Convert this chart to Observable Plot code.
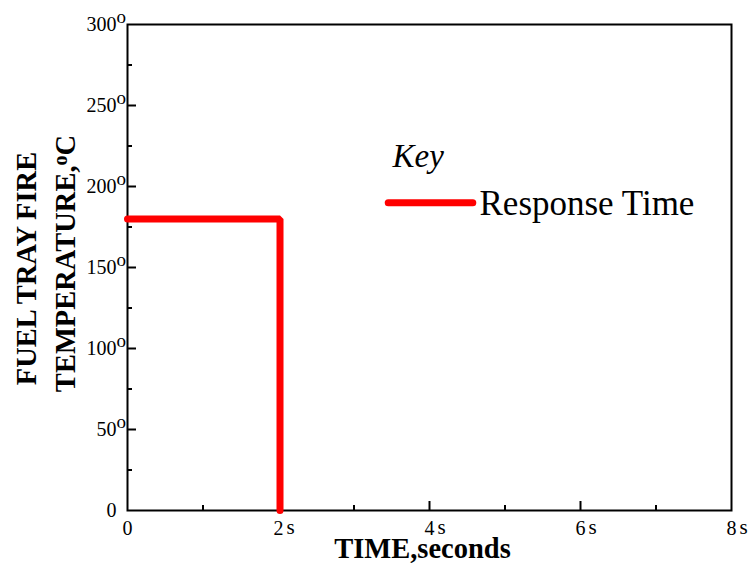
<!DOCTYPE html>
<html>
<head>
<meta charset="utf-8">
<script src="https://cdn.jsdelivr.net/npm/d3@7"></script>
<script src="https://cdn.jsdelivr.net/npm/@observablehq/plot@0.6"></script>
<style>
  html, body { margin: 0; padding: 0; background: #fff; }
  svg text { font-family: "Liberation Serif", "Times New Roman", serif; }
</style>
</head>
<body>
<div id="chart"></div>
<script>
// Data
const timeSec = [0, 2.02, 2.02];
const tempC = [180, 180, 0];
const seriesName = "Response Time";
const keyTitle = "Key";

const xMajor = [0, 2, 4, 6, 8];
const xMinor = [1, 3, 5, 7];
const yMajor = [0, 50, 100, 150, 200, 250, 300];
const yMinor = [25, 75, 125, 175, 225, 275];

const xTitle = "TIME,seconds";
const yTitle1 = "FUEL TRAY FIRE";
const yTitle2 = "TEMPERATURE,oC";

const rows = timeSec.map((t, i) => ({t, temp: tempC[i]}));

const chart = Plot.plot({
  width: 748,
  height: 570,
  marginLeft: 127,
  marginRight: 17,
  marginTop: 24,
  marginBottom: 60,
  style: {fontFamily: "Liberation Serif", background: "#fff", color: "#000"},
  x: {domain: [0, 8]},
  y: {domain: [0, 300]},
  marks: [
    // ticks (inward)
    Plot.axisX({ticks: xMajor.filter(d => d > 0 && d < 8), tickSize: -9, tickFormat: () => "", strokeWidth: 2, label: null}),
    Plot.axisX({ticks: xMinor, tickSize: -5, tickFormat: () => "", strokeWidth: 2, label: null}),
    Plot.axisY({ticks: yMajor.filter(d => d > 0 && d < 300), tickSize: -9, tickFormat: () => "", strokeWidth: 2, label: null}),
    Plot.axisY({ticks: yMinor, tickSize: -5, tickFormat: () => "", strokeWidth: 2, label: null}),
    Plot.frame({stroke: "#000", strokeWidth: 2}),
    // y tick labels
    Plot.text(yMajor, {y: d => d, frameAnchor: "left", textAnchor: "end", lineAnchor: "middle", dx: -11, text: d => String(d), fontSize: 20, fill: "#000"}),
    Plot.text(yMajor.filter(d => d > 0), {y: d => d, frameAnchor: "left", textAnchor: "start", lineAnchor: "middle", dx: -11, dy: -8, text: () => "o", fontSize: 19, fill: "#000"}),
    // x tick labels
    Plot.text(xMajor, {x: d => d, frameAnchor: "bottom", lineAnchor: "middle", dy: 18, text: d => String(d), fontSize: 20, fill: "#000"}),
    Plot.text(xMajor.filter(d => d > 0), {x: d => d, frameAnchor: "bottom", textAnchor: "start", lineAnchor: "middle", dx: 8, dy: 17, text: () => "s", fontSize: 21, fill: "#000"}),
    // axis titles
    Plot.text([xTitle], {frameAnchor: "bottom", lineAnchor: "middle", dx: -7, dy: 38, text: d => d, fontSize: 28.5, fontWeight: "bold", fill: "#000"}),
    Plot.text([yTitle1], {frameAnchor: "left", textAnchor: "middle", lineAnchor: "middle", rotate: -90, dx: -101, dy: 1, text: d => d, fontSize: 28.5, fontWeight: "bold", fill: "#000"}),
    Plot.text([yTitle2], {frameAnchor: "left", textAnchor: "middle", lineAnchor: "middle", rotate: -90, dx: -62, dy: -4, text: d => d, fontSize: 28.5, fontWeight: "bold", fill: "#000"}),
    // data
    Plot.line(rows, {x: "t", y: "temp", stroke: "#ff0000", strokeWidth: 7, strokeLinejoin: "miter"}),
    // key
    Plot.text([keyTitle], {frameAnchor: "top-left", textAnchor: "start", lineAnchor: "middle", dx: 265, dy: 132, text: d => d, fontSize: 33, fontStyle: "italic", fill: "#000"}),
    Plot.ruleY([190], {x1: 3.46, x2: 4.58, stroke: "#ff0000", strokeWidth: 7, strokeLinecap: "round"}),
    Plot.text([seriesName], {frameAnchor: "top-left", textAnchor: "start", lineAnchor: "middle", dx: 352, dy: 179, text: d => d, fontSize: 35, fill: "#000"})
  ]
});

// superscript o in the y-axis title
d3.select(chart).selectAll("text").each(function() {
  const el = d3.select(this);
  if (el.text() === yTitle2) {
    el.text(null);
    el.append("tspan").text("TEMPERATURE,");
    el.append("tspan").attr("dy", "-0.4em").attr("font-size", "0.7em").text("o");
    el.append("tspan").attr("dy", "0.28em").text("C");
  }
});

document.getElementById("chart").appendChild(chart);
</script>
</body>
</html>
